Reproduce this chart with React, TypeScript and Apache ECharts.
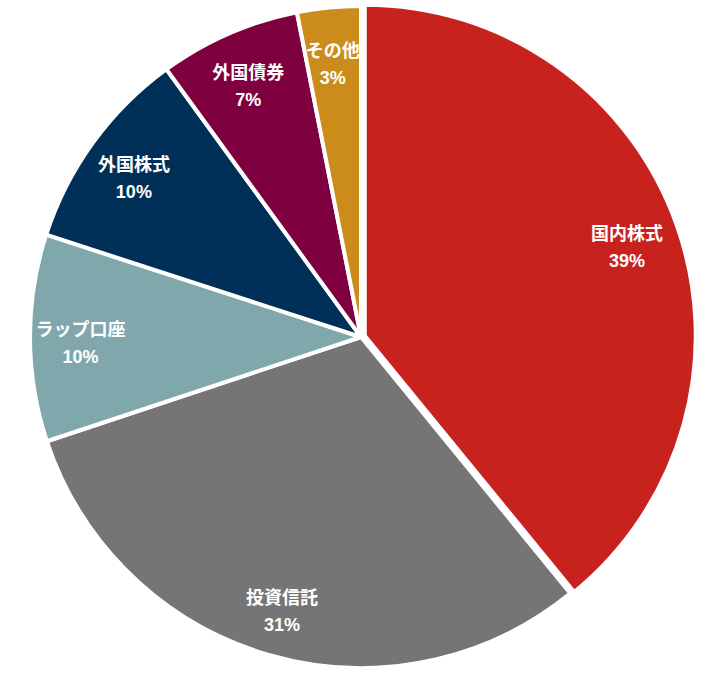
import React, { useEffect, useRef } from "react";
import * as echarts from "echarts";

const categories = ["国内株式", "投資信託", "ラップ口座", "外国株式", "外国債券", "その他"];
const values = [39.1, 30.8, 10.1, 10.0, 6.9, 3.1];
const colors = ["#C8221F", "#757575", "#80A8AC", "#003058", "#7E003F", "#CB8C1B"];
const selectedCategory = "国内株式";

export default function App() {
  const ref = useRef<HTMLDivElement>(null);
  useEffect(() => {
    if (!ref.current) return;
    const chart = echarts.init(ref.current, undefined, { renderer: "svg" });
    const data = categories.map((name, i) => ({
      name,
      value: values[i],
      selected: name === selectedCategory,
      itemStyle: { color: colors[i] },
    }));
    const labelData = categories.map((name, i) => ({
      name,
      value: values[i],
      selected: name === selectedCategory,
    }));
    chart.setOption({
      animation: false,
      backgroundColor: "#ffffff",
      series: [
        {
          type: "pie",
          z: 2,
          center: [361, 337],
          radius: [0, 331],
          startAngle: 90,
          clockwise: true,
          selectedMode: "single",
          selectedOffset: 4,
          silent: true,
          itemStyle: { borderColor: "#ffffff", borderWidth: 4 },
          label: { show: false },
          labelLine: { show: false },
          emphasis: { disabled: true },
          data,
        },
        {
          type: "pie",
          z: 10,
          center: [360, 343],
          radius: [222, 331],
          startAngle: 90,
          clockwise: true,
          selectedMode: "single",
          selectedOffset: 4,
          silent: true,
          percentPrecision: 0,
          itemStyle: { color: "rgba(0,0,0,0)", borderWidth: 0 },
          label: {
            show: true,
            position: "inside",
            formatter: "{b}\n{d}%",
            color: "#ffffff",
            fontWeight: "bold",
            fontSize: 18,
            lineHeight: 27,
            overflow: "none",
            fontFamily: "'Liberation Sans', 'Noto Sans CJK JP', sans-serif",
            align: "center",
          },
          labelLine: { show: false },
          emphasis: { disabled: true },
          data: labelData,
        },
      ],
    });
    return () => chart.dispose();
  }, []);
  return <div ref={ref} style={{ position: "absolute", left: 0, top: 0, width: 722, height: 674 }} />;
}
